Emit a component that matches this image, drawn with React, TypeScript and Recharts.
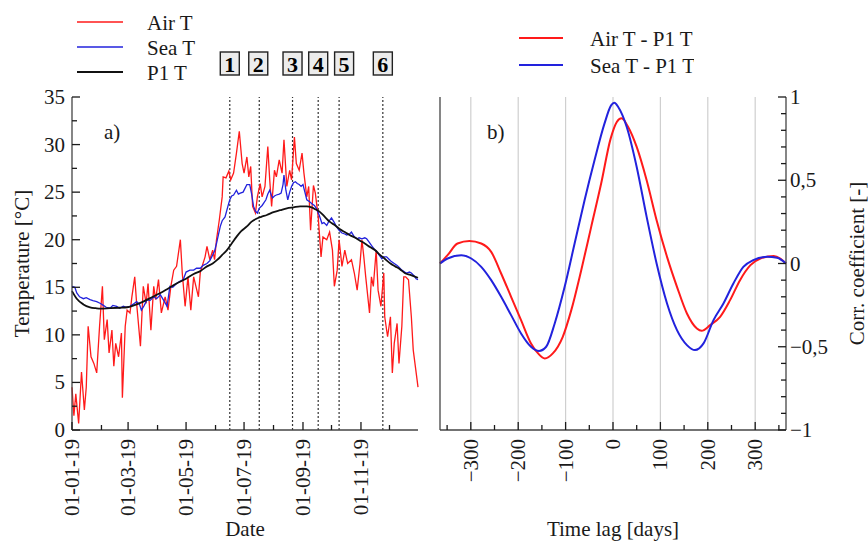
import React from 'react';
import { LineChart, Line, XAxis, YAxis, ReferenceLine, Legend, Label } from 'recharts';

const FONT = '"Liberation Serif", "Times New Roman", serif';

// ---- panel a) daily temperatures 2019 (day of year) ----
const airDays = [0, 2, 4, 7, 10, 13, 15, 17, 20, 23, 26, 29, 32, 34, 37, 39, 42, 44, 46, 49, 52, 53, 56, 58, 61, 63, 66, 68, 72, 75, 78, 80, 83, 86, 88, 91, 94, 98, 101, 104, 107, 110, 114, 116, 119, 122, 125, 128, 133, 135, 140, 142, 145, 148, 150, 152, 155, 158, 159, 162, 165, 167, 170, 173, 176, 179, 181, 184, 186, 188, 190, 193, 195, 198, 200, 203, 206, 208, 210, 213, 215, 218, 221, 223, 226, 229, 231, 234, 236, 239, 242, 244, 247, 249, 251, 254, 256, 259, 262, 264, 268, 271, 274, 276, 279, 281, 284, 287, 290, 294, 297, 300, 303, 305, 307, 309, 313, 315, 317, 320, 322, 325, 328, 329, 332, 335, 337, 339, 342, 344, 347, 349, 351, 354, 357, 359, 363, 364];
const airTemps = [4.5, 1.5, 3.8, 0.7, 6.1, 2.1, 4.5, 10.9, 7.7, 7.0, 6.0, 10.9, 15.1, 9.5, 11.6, 8.1, 10.5, 6.7, 9.1, 7.7, 10.2, 3.4, 10.9, 12.6, 12.3, 14.0, 16.1, 13.3, 8.8, 15.1, 13.3, 15.4, 10.5, 15.1, 13.7, 15.8, 12.3, 14.0, 12.6, 15.1, 16.8, 17.2, 20.0, 16.5, 13.0, 16.1, 12.6, 16.1, 14.0, 16.6, 18.2, 19.3, 17.9, 18.9, 17.9, 20.0, 22.1, 24.5, 26.6, 26.5, 27.2, 26.3, 27.0, 29.1, 31.4, 28.0, 27.0, 28.7, 26.6, 27.7, 23.5, 22.8, 24.5, 25.9, 24.5, 25.6, 29.8, 26.3, 23.5, 27.3, 26.6, 28.4, 27.0, 30.5, 25.6, 27.3, 26.3, 30.8, 28.0, 27.3, 29.1, 27.0, 24.5, 25.6, 21.0, 25.7, 24.9, 22.4, 18.2, 20.3, 20.0, 20.8, 18.9, 15.1, 16.8, 20.0, 17.2, 18.9, 17.5, 17.9, 16.5, 14.7, 17.5, 20.0, 18.2, 16.1, 12.3, 16.1, 15.1, 18.9, 14.7, 13.0, 16.5, 11.9, 9.8, 11.9, 6.0, 9.1, 11.2, 7.0, 10.9, 16.1, 16.1, 15.8, 11.9, 8.4, 5.3, 4.5];

const seaDays = [0, 3, 5, 8, 12, 15, 19, 22, 26, 30, 33, 36, 40, 43, 47, 50, 54, 57, 61, 64, 68, 71, 73, 76, 79, 82, 86, 89, 93, 96, 100, 103, 106, 110, 113, 117, 120, 124, 128, 131, 135, 138, 142, 145, 147, 150, 152, 154, 156, 158, 161, 164, 166, 168, 170, 173, 175, 177, 180, 182, 184, 187, 189, 191, 193, 195, 197, 200, 202, 204, 206, 208, 210, 211, 213, 215, 218, 220, 222, 223, 225, 227, 229, 231, 233, 235, 237, 239, 241, 243, 245, 247, 250, 252, 255, 257, 260, 263, 265, 268, 270, 273, 276, 278, 281, 284, 287, 289, 292, 294, 297, 300, 302, 305, 308, 310, 313, 315, 318, 321, 323, 326, 328, 331, 334, 336, 339, 342, 344, 347, 350, 352, 355, 357, 360, 362, 364];
const seaTemps = [15.1, 15.0, 14.4, 14.0, 13.8, 13.9, 13.7, 13.6, 13.5, 13.3, 13.1, 12.9, 12.8, 13.1, 13.0, 12.8, 13.0, 12.9, 13.0, 13.2, 13.5, 13.2, 12.6, 13.1, 13.7, 13.6, 14.0, 13.8, 14.2, 13.7, 13.0, 15.1, 15.0, 15.4, 15.6, 15.8, 16.6, 16.8, 16.8, 17.0, 17.0, 17.3, 17.5, 17.8, 18.2, 18.8, 19.6, 20.5, 21.4, 22.0, 22.4, 23.5, 24.2, 24.6, 24.7, 25.2, 24.8, 24.9, 25.0, 25.4, 25.8, 25.8, 24.8, 23.5, 23.0, 22.8, 23.3, 23.6, 23.9, 24.2, 24.8, 25.2, 24.6, 24.4, 24.6, 24.7, 24.8, 24.9, 25.8, 26.8, 25.2, 24.2, 25.0, 25.6, 26.0, 26.1, 25.9, 25.8, 25.6, 25.8, 25.0, 24.2, 24.0, 23.8, 23.6, 23.3, 22.6, 21.7, 21.8, 21.5, 21.9, 22.3, 21.8, 21.4, 21.0, 20.7, 20.6, 20.5, 20.6, 20.8, 20.3, 20.1, 20.2, 20.1, 20.2, 20.1, 19.7, 19.4, 19.0, 18.7, 18.4, 18.0, 18.2, 18.2, 17.9, 17.7, 17.5, 17.3, 17.1, 16.8, 16.6, 16.5, 16.6, 16.5, 16.2, 15.9, 15.8];

const p1Days = [0, 5, 12, 19, 25, 30, 40, 50, 58, 65, 75, 85, 93, 100, 110, 120, 128, 135, 142, 148, 153, 158, 163, 168, 173, 178, 184, 189, 194, 199, 205, 212, 219, 226, 233, 240, 247, 252, 256, 261, 266, 271, 277, 282, 287, 292, 298, 303, 308, 314, 319, 324, 329, 335, 340, 345, 350, 356, 364];
const p1Temps = [14.6, 13.8, 13.2, 12.9, 12.8, 12.75, 12.8, 12.85, 12.9, 13.1, 13.5, 14.0, 14.4, 14.8, 15.4, 15.9, 16.4, 16.7, 17.2, 17.5, 17.9, 18.4, 18.9, 19.6, 20.3, 20.9, 21.4, 21.9, 22.2, 22.4, 22.6, 22.9, 23.1, 23.3, 23.4, 23.5, 23.5, 23.4, 23.2, 22.9, 22.4, 21.9, 21.5, 21.1, 20.8, 20.5, 20.2, 19.9, 19.6, 19.2, 18.9, 18.4, 18.0, 17.5, 17.2, 16.9, 16.5, 16.3, 16.0];

const monthStarts = [0, 31, 59, 90, 120, 151, 181, 212, 243, 273, 304, 334];
const monthLabels = ['01-01-19', '', '01-03-19', '', '01-05-19', '', '01-07-19', '', '01-09-19', '', '01-11-19', ''];
const tempTicks = [0, 2.5, 5, 7.5, 10, 12.5, 15, 17.5, 20, 22.5, 25, 27.5, 30, 32.5, 35];
const tempLabels = ['0', '', '5', '', '10', '', '15', '', '20', '', '25', '', '30', '', '35'];

const eventDays = [166, 197, 232, 259, 281, 327];
const eventNames = ['1', '2', '3', '4', '5', '6'];

// ---- panel b) cross-correlation vs time lag ----
const airLag = [-365, -349, -328, -303, -278, -257, -236, -215, -194, -173, -158, -144, -127, -106, -88, -67, -46, -25, -5, 8, 18, 32, 50, 71, 92, 114, 135, 156, 177, 187, 205, 226, 247, 268, 290, 311, 339, 353, 365];
const airCorr = [0, 0.05, 0.12, 0.135, 0.12, 0.07, -0.06, -0.2, -0.34, -0.48, -0.54, -0.57, -0.54, -0.44, -0.28, -0.04, 0.22, 0.48, 0.75, 0.85, 0.872, 0.82, 0.7, 0.5, 0.26, 0.04, -0.14, -0.3, -0.39, -0.404, -0.37, -0.32, -0.22, -0.1, -0.01, 0.03, 0.045, 0.03, 0];

const seaLag = [-365, -349, -320, -299, -278, -257, -236, -215, -194, -173, -156, -141, -123, -102, -81, -60, -39, -18, -4, 3, 11, 29, 50, 71, 92, 114, 135, 156, 173, 191, 212, 233, 254, 275, 296, 325, 346, 365];
const seaCorr = [0, 0.03, 0.05, 0.03, -0.02, -0.1, -0.2, -0.31, -0.42, -0.5, -0.525, -0.5, -0.36, -0.14, 0.12, 0.38, 0.62, 0.84, 0.95, 0.966, 0.94, 0.82, 0.58, 0.28, 0, -0.24, -0.4, -0.49, -0.52, -0.48, -0.34, -0.24, -0.12, -0.02, 0.02, 0.04, 0.035, 0];

const lagTicks = [-350, -300, -250, -200, -150, -100, -50, 0, 50, 100, 150, 200, 250, 300, 350];
const lagLabels = ['', '−300', '', '−200', '', '−100', '', '0', '', '100', '', '200', '', '300', ''];
const lagGrid = [-300, -200, -100, 0, 100, 200, 300];
const corrTicks = [-1, -0.9, -0.8, -0.7, -0.6, -0.5, -0.4, -0.3, -0.2, -0.1, 0, 0.1, 0.2, 0.3, 0.4, 0.5, 0.6, 0.7, 0.8, 0.9, 1];
const corrMajor = [-1, -0.5, 0, 0.5, 1];
const corrLabels = ['−1', '−0,5', '0', '0,5', '1'];

const airSeries = airDays.map((d, i) => ({ x: d, v: airTemps[i] }));
const seaSeries = seaDays.map((d, i) => ({ x: d, v: seaTemps[i] }));
const p1Series = p1Days.map((d, i) => ({ x: d, v: p1Temps[i] }));
const airCorrSeries = airLag.map((d, i) => ({ x: d, v: airCorr[i] }));
const seaCorrSeries = seaLag.map((d, i) => ({ x: d, v: seaCorr[i] }));

const TICK = '#1a1a1a';
const AXIS = { stroke: '#444', strokeWidth: 1.3 };
const TXT = { fontFamily: FONT, fontSize: 21, fill: '#1a1a1a' };
// tick props sit exactly on the axis line; the marks themselves are drawn in makeTick
const onAxis = { tickSize: 0, tickMargin: 0, tickLine: false, interval: 0 as const };

// box 5 sits a little right of its line in the original, to clear box 4
const boxShift = [0, -1, 0, 0, 5, 0];

// inward tick mark (long for major, short for minor) plus optional label
const makeTick = (side: string, labelOf: (v: number) => string, majorOf: (v: number) => boolean) => (p: any) => {
  const x = Number(p.x);
  const y = Number(p.y);
  const v = p.payload.value;
  const len = majorOf(v) ? 8 : 5;
  const lab = labelOf(v);
  let d = '';
  let tx = null;
  if (side === 'bottom') {
    d = `M${x},${y}V${y - len}`;
    if (lab) tx = <text {...TXT} x={x} y={y + 9} textAnchor="end" dominantBaseline="central" transform={`rotate(-90 ${x} ${y + 9})`}>{lab}</text>;
  } else if (side === 'top') {
    d = `M${x},${y}V${y + len}`;
  } else if (side === 'left') {
    d = `M${x},${y}H${x + len}`;
    if (lab) tx = <text {...TXT} x={x - 7} y={y} textAnchor="end" dominantBaseline="central">{lab}</text>;
  } else {
    d = `M${x},${y}H${x - len}`;
    if (lab) tx = <text {...TXT} x={x + 4} y={y} textAnchor="start" dominantBaseline="central">{lab}</text>;
  }
  return (
    <g>
      <path d={d} stroke={TICK} strokeWidth={1.3} fill="none" />
      {tx}
    </g>
  );
};

const none = () => '';
const dateLabel = (v: number) => monthLabels[monthStarts.indexOf(v)] || '';
const dateMajor = (v: number) => dateLabel(v) !== '';
const tempLabel = (v: number) => tempLabels[tempTicks.indexOf(v)] || '';
const tempMajor = (v: number) => tempLabel(v) !== '';
const lagLabel = (v: number) => lagLabels[lagTicks.indexOf(v)] || '';
const lagMajor = (v: number) => v % 100 === 0;
const corrIdx = (v: number) => corrMajor.findIndex((m) => Math.abs(m - v) < 1e-6);
const corrLabel = (v: number) => (corrIdx(v) >= 0 ? corrLabels[corrIdx(v)] : '');
const corrIsMajor = (v: number) => corrIdx(v) >= 0;

const EventBox = ({ viewBox, name, shift }: any) => {
  const cx = viewBox.x + shift;
  return (
    <g>
      <rect x={cx - 9.5} y={52} width={19} height={23} fill="#ececec" stroke="#222" strokeWidth={1.4} />
      <text {...TXT} fontSize={22} fontWeight="bold" fill="#000" x={cx} y={64} textAnchor="middle" dominantBaseline="central">{name}</text>
    </g>
  );
};

const legendA = () => (
  <svg width={240} height={150}>
    <line x1={77} x2={123} y1={22} y2={22} stroke="#ff1a1a" strokeWidth={1.5} />
    <line x1={77} x2={123} y1={47} y2={47} stroke="#2222dd" strokeWidth={1.5} />
    <line x1={77} x2={123} y1={72} y2={72} stroke="#111" strokeWidth={2} />
    <text {...TXT} x={147} y={23} dominantBaseline="central">Air T</text>
    <text {...TXT} x={147} y={48} dominantBaseline="central">Sea T</text>
    <text {...TXT} x={147} y={73} dominantBaseline="central">P1 T</text>
    <text {...TXT} x={104} y={132} dominantBaseline="central">a)</text>
  </svg>
);

const legendB = () => (
  <svg width={260} height={150}>
    <line x1={85} x2={129} y1={38} y2={38} stroke="#ff1a1a" strokeWidth={2} />
    <line x1={85} x2={129} y1={65} y2={65} stroke="#2222dd" strokeWidth={2} />
    <text {...TXT} x={156} y={39} dominantBaseline="central">Air T - P1 T</text>
    <text {...TXT} x={156} y={66} dominantBaseline="central">Sea T - P1 T</text>
    <text {...TXT} x={53} y={132} dominantBaseline="central">b)</text>
  </svg>
);

const legendWrap = { position: 'absolute' as const, top: 0, left: 0, width: 260, height: 150 };

const App: React.FC = () => (
  <div style={{ position: 'absolute', left: 0, top: 0, width: 868, height: 542, background: '#fff' }}>
    <div style={{ position: 'absolute', left: 0, top: 0 }}>
      <LineChart width={434} height={542} margin={{ top: 97, right: 16, bottom: 0, left: 0 }}>
        <XAxis dataKey="x" type="number" domain={[0, 364]} ticks={monthStarts} height={112} {...onAxis}
          axisLine={AXIS} tick={makeTick('bottom', dateLabel, dateMajor)}>
          <Label content={({ viewBox }: any) => (
            <text {...TXT} x={viewBox.x + viewBox.width / 2} y={viewBox.y + 99} textAnchor="middle" dominantBaseline="central">Date</text>
          )} />
        </XAxis>
        <XAxis xAxisId="top" orientation="top" type="number" domain={[0, 364]} height={0} tick={false} tickLine={false} axisLine={AXIS} />
        <YAxis type="number" domain={[0, 35]} ticks={tempTicks} width={72} {...onAxis}
          axisLine={AXIS} tick={makeTick('left', tempLabel, tempMajor)}>
          <Label content={({ viewBox }: any) => {
            const cx = viewBox.x + 22;
            const cy = viewBox.y + viewBox.height / 2;
            return <text {...TXT} x={cx} y={cy} textAnchor="middle" dominantBaseline="central" transform={`rotate(-90 ${cx} ${cy})`}>Temperature [°C]</text>;
          }} />
        </YAxis>
        <YAxis yAxisId="r" orientation="right" type="number" domain={[0, 35]} ticks={tempTicks} width={0} {...onAxis}
          axisLine={AXIS} tick={makeTick('right', none, tempMajor)} />
        {eventDays.map((d, i) => (
          <ReferenceLine key={d} x={d} stroke="#333" strokeWidth={1.2} strokeDasharray="2 2"
            label={(p: any) => <EventBox viewBox={p.viewBox} name={eventNames[i]} shift={boxShift[i]} />} />
        ))}
        <Line data={airSeries} dataKey="v" type="linear" stroke="#ff1a1a" strokeWidth={1.3} dot={false} isAnimationActive={false} />
        <Line data={seaSeries} dataKey="v" type="linear" stroke="#2222dd" strokeWidth={1.3} dot={false} isAnimationActive={false} />
        <Line data={p1Series} dataKey="v" type="monotone" stroke="#111" strokeWidth={1.8} dot={false} isAnimationActive={false} />
        <Legend layout="vertical" align="center" verticalAlign="middle" wrapperStyle={legendWrap} content={legendA} />
      </LineChart>
    </div>
    <div style={{ position: 'absolute', left: 434, top: 0 }}>
      <LineChart width={434} height={542} margin={{ top: 97, right: 0, bottom: 0, left: 0 }}>
        <XAxis dataKey="x" type="number" domain={[-365, 365]} ticks={lagTicks} height={112} {...onAxis}
          axisLine={AXIS} tick={makeTick('bottom', lagLabel, lagMajor)}>
          <Label content={({ viewBox }: any) => (
            <text {...TXT} x={viewBox.x + viewBox.width / 2} y={viewBox.y + 99} textAnchor="middle" dominantBaseline="central">Time lag [days]</text>
          )} />
        </XAxis>
        <XAxis xAxisId="top" orientation="top" type="number" domain={[-365, 365]} ticks={lagTicks} height={0} {...onAxis}
          axisLine={AXIS} tick={makeTick('top', none, lagMajor)} />
        <YAxis yAxisId="l" orientation="left" type="number" domain={[-1, 1]} ticks={corrTicks} width={6} {...onAxis}
          axisLine={AXIS} tick={makeTick('left', none, corrIsMajor)} />
        <YAxis orientation="right" type="number" domain={[-1, 1]} ticks={corrTicks} width={82} {...onAxis}
          axisLine={AXIS} tick={makeTick('right', corrLabel, corrIsMajor)}>
          <Label content={({ viewBox }: any) => {
            const cx = viewBox.x + 71;
            const cy = viewBox.y + viewBox.height / 2;
            return <text {...TXT} x={cx} y={cy} textAnchor="middle" dominantBaseline="central" transform={`rotate(-90 ${cx} ${cy})`}>Corr. coefficient [-]</text>;
          }} />
        </YAxis>
        {lagGrid.map((g) => (
          <ReferenceLine key={g} x={g} stroke="#cfcfcf" strokeWidth={1.2} />
        ))}
        <Line data={airCorrSeries} dataKey="v" type="monotone" stroke="#ff1a1a" strokeWidth={2} dot={false} isAnimationActive={false} />
        <Line data={seaCorrSeries} dataKey="v" type="monotone" stroke="#2222dd" strokeWidth={2} dot={false} isAnimationActive={false} />
        <Legend layout="vertical" align="center" verticalAlign="middle" wrapperStyle={legendWrap} content={legendB} />
      </LineChart>
    </div>
  </div>
);

export default App;
